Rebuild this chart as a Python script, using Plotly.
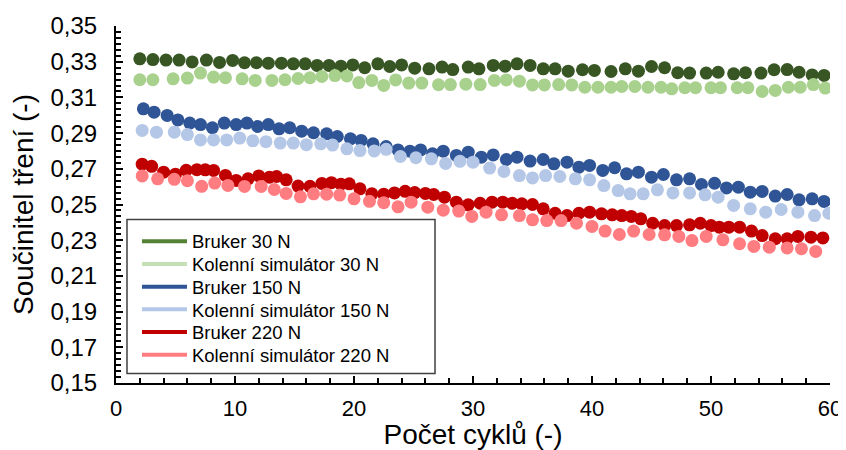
import plotly.graph_objects as go

# Bruker 30 N
bruker30_x = [2.0, 3.1, 4.2, 5.3, 6.4, 7.6, 8.7, 9.8, 10.8, 11.8, 12.8, 13.9, 14.9, 15.9, 16.9, 17.9, 18.9, 19.9,
              20.9, 22.0, 23.0, 24.0, 25.1, 26.3, 27.4, 28.3, 29.6, 30.5, 31.7, 32.7, 33.7, 34.8, 35.9, 36.9, 38.0,
              39.2, 40.2, 41.6, 42.8, 43.9, 45.0, 46.1, 47.2, 48.2, 49.6, 50.6, 51.9, 52.9, 54.2, 55.3, 56.4, 57.4,
              58.5, 59.5]
bruker30_y = [0.3316, 0.3312, 0.3309, 0.3309, 0.3299, 0.3309, 0.3296, 0.3307, 0.3294, 0.3294, 0.3292, 0.3292,
              0.3288, 0.3288, 0.3279, 0.3279, 0.3275, 0.3282, 0.3266, 0.3288, 0.3273, 0.3282, 0.3264, 0.3260,
              0.3270, 0.3256, 0.3270, 0.3260, 0.3279, 0.3275, 0.3288, 0.3279, 0.3260, 0.3260, 0.3247, 0.3255,
              0.3251, 0.3245, 0.3260, 0.3247, 0.3273, 0.3266, 0.3238, 0.3236, 0.3236, 0.3241, 0.3232, 0.3238,
              0.3236, 0.3255, 0.3256, 0.3241, 0.3226, 0.3223]

# Kolenní simulátor 30 N
sim30_x = [2.0, 3.1, 4.8, 6.0, 7.1, 8.2, 9.2, 10.6, 11.7, 13.1, 14.2, 15.3, 16.3, 17.3, 18.4, 19.4, 20.4, 21.5,
           22.5, 23.5, 24.6, 25.7, 27.1, 28.1, 29.4, 30.6, 31.8, 32.8, 33.9, 35.0, 36.0, 37.2, 38.3, 39.4, 40.5,
           41.6, 42.5, 43.6, 44.7, 45.8, 46.7, 47.8, 48.7, 50.0, 50.8, 52.2, 53.1, 54.3, 55.4, 56.5, 57.5, 58.6,
           59.6]
sim30_y = [0.3199, 0.3199, 0.3204, 0.3208, 0.3236, 0.3214, 0.3210, 0.3204, 0.3195, 0.3195, 0.3199, 0.3206,
           0.3210, 0.3217, 0.3222, 0.3220, 0.3183, 0.3195, 0.3167, 0.3198, 0.3180, 0.3180, 0.3171, 0.3172,
           0.3174, 0.3172, 0.3195, 0.3198, 0.3191, 0.3170, 0.3170, 0.3172, 0.3170, 0.3157, 0.3157, 0.3157,
           0.3161, 0.3161, 0.3157, 0.3157, 0.3148, 0.3154, 0.3154, 0.3154, 0.3154, 0.3154, 0.3154, 0.3133,
           0.3139, 0.3157, 0.3157, 0.3172, 0.3152]

# Bruker 150 N
bruker150_x = [2.3, 3.2, 4.3, 5.2, 6.2, 7.1, 8.1, 9.1, 10.1, 11.0, 11.9, 12.8, 13.7, 14.6, 15.6, 16.6, 17.7, 18.6,
               19.7, 20.6, 21.6, 22.7, 23.7, 24.7, 25.6, 26.6, 27.5, 28.6, 29.6, 30.7, 31.7, 32.8, 33.7, 34.8,
               35.9, 36.8, 37.9, 38.9, 39.8, 40.9, 41.9, 42.9, 43.9, 45.0, 46.0, 47.1, 48.2, 49.2, 50.3, 51.3,
               52.3, 53.3, 54.3, 55.4, 56.4, 57.4, 58.5, 59.5]
bruker150_y = [0.3036, 0.3017, 0.2999, 0.2974, 0.2956, 0.2948, 0.2930, 0.2956, 0.2948, 0.2956, 0.2937, 0.2948,
               0.2924, 0.2930, 0.2911, 0.2902, 0.2896, 0.2881, 0.2868, 0.2859, 0.2840, 0.2825, 0.2806, 0.2799,
               0.2806, 0.2784, 0.2799, 0.2775, 0.2793, 0.2765, 0.2778, 0.2752, 0.2765, 0.2743, 0.2752, 0.2728,
               0.2737, 0.2709, 0.2719, 0.2691, 0.2706, 0.2672, 0.2681, 0.2653, 0.2668, 0.2638, 0.2644, 0.2612,
               0.2619, 0.2593, 0.2597, 0.2569, 0.2573, 0.2547, 0.2556, 0.2526, 0.2532, 0.2517]

# Kolenní simulátor 150 N
sim150_x = [2.2, 3.4, 4.9, 6.0, 7.1, 8.2, 9.3, 10.4, 11.5, 12.6, 13.8, 14.9, 16.0, 17.2, 18.2, 19.4, 20.5, 21.7,
            22.7, 23.9, 25.2, 26.5, 27.7, 28.9, 30.0, 31.4, 32.6, 33.9, 35.0, 36.1, 37.3, 38.6, 39.8, 41.0, 42.2,
            43.2, 44.3, 45.5, 46.8, 48.2, 49.5, 50.6, 51.9, 53.3, 54.6, 55.9, 57.3, 58.7, 59.9]
sim150_y = [0.2915, 0.2905, 0.2905, 0.2892, 0.2862, 0.2862, 0.2862, 0.2872, 0.2857, 0.2852, 0.2844, 0.2844,
            0.2835, 0.2840, 0.2833, 0.2812, 0.2802, 0.2800, 0.2809, 0.2769, 0.2762, 0.2756, 0.2730, 0.2742,
            0.2737, 0.2704, 0.2685, 0.2662, 0.2649, 0.2662, 0.2657, 0.2644, 0.2638, 0.2606, 0.2578, 0.2560,
            0.2560, 0.2582, 0.2565, 0.2565, 0.2554, 0.2541, 0.2495, 0.2476, 0.2457, 0.2472, 0.2457, 0.2438,
            0.2451]

# Bruker 220 N
bruker220_x = [2.2, 3.0, 4.0, 5.0, 5.9, 6.8, 7.5, 8.2, 9.2, 10.1, 11.1, 12.0, 12.9, 13.5, 14.3, 15.3, 16.3, 17.3,
               18.1, 18.9, 19.6, 20.5, 21.5, 22.5, 23.4, 24.3, 25.1, 26.0, 26.7, 27.6, 28.6, 29.6, 30.6, 31.6,
               32.5, 33.3, 34.1, 35.0, 35.9, 36.9, 37.9, 38.9, 39.8, 40.8, 41.7, 42.5, 43.3, 44.1, 45.1, 46.1,
               47.1, 48.2, 49.1, 50.0, 50.7, 51.5, 52.4, 53.4, 54.3, 55.4, 56.4, 57.3, 58.4, 59.4]
bruker220_y = [0.2726, 0.2714, 0.2681, 0.2670, 0.2692, 0.2695, 0.2694, 0.2691, 0.2663, 0.2635, 0.2644, 0.2660,
               0.2653, 0.2657, 0.2638, 0.2603, 0.2602, 0.2618, 0.2622, 0.2614, 0.2616, 0.2588, 0.2560, 0.2558,
               0.2565, 0.2574, 0.2567, 0.2562, 0.2556, 0.2541, 0.2513, 0.2498, 0.2507, 0.2513, 0.2513, 0.2507,
               0.2504, 0.2500, 0.2476, 0.2451, 0.2438, 0.2451, 0.2457, 0.2448, 0.2442, 0.2438, 0.2433, 0.2420,
               0.2395, 0.2382, 0.2382, 0.2386, 0.2395, 0.2382, 0.2373, 0.2373, 0.2373, 0.2351, 0.2326, 0.2308,
               0.2308, 0.2321, 0.2317, 0.2313]

# Kolenní simulátor 220 N
sim220_x = [2.2, 3.5, 4.9, 6.0, 7.2, 8.3, 9.4, 10.8, 12.2, 13.3, 14.3, 15.5, 16.6, 17.7, 18.8, 20.0, 21.3, 22.5,
            23.7, 24.8, 26.2, 27.5, 28.8, 29.9, 31.1, 32.4, 33.9, 35.0, 36.2, 37.4, 38.7, 40.0, 41.1, 42.3, 43.5,
            44.8, 46.1, 47.3, 48.4, 49.6, 51.0, 52.4, 53.6, 54.9, 56.4, 57.6, 58.8]
sim220_y = [0.2660, 0.2644, 0.2641, 0.2633, 0.2602, 0.2620, 0.2607, 0.2601, 0.2601, 0.2584, 0.2562, 0.2543,
            0.2560, 0.2558, 0.2553, 0.2532, 0.2518, 0.2510, 0.2487, 0.2513, 0.2485, 0.2468, 0.2463, 0.2433,
            0.2457, 0.2442, 0.2438, 0.2414, 0.2410, 0.2410, 0.2395, 0.2377, 0.2351, 0.2332, 0.2351, 0.2332,
            0.2330, 0.2321, 0.2298, 0.2321, 0.2302, 0.2280, 0.2265, 0.2261, 0.2257, 0.2252, 0.2237]

series = [
    ("Bruker 30 N", bruker30_x, bruker30_y, "#375623", "#548235"),
    ("Kolenní simulátor 30 N", sim30_x, sim30_y, "#a9d18e", "#c5e0b4"),
    ("Bruker 150 N", bruker150_x, bruker150_y, "#2f5597", "#2f5597"),
    ("Kolenní simulátor 150 N", sim150_x, sim150_y, "#b4c7e7", "#b4c7e7"),
    ("Bruker 220 N", bruker220_x, bruker220_y, "#c00000", "#c00000"),
    ("Kolenní simulátor 220 N", sim220_x, sim220_y, "#ff7c80", "#ff7c80"),
]

FONT = "Liberation Sans, Arial, sans-serif"

fig = go.Figure()

for name, xs, ys, color, legend_color in series:
    fig.add_trace(
        go.Scatter(
            x=xs,
            y=ys,
            mode="markers",
            marker=dict(color=color, size=13, line=dict(width=0)),
            showlegend=False,
            name=name,
        )
    )

# legend frame (the entries sit inside it, one small legend per row
# so the rows can be packed as tightly as in the original)
fig.add_shape(
    type="rect",
    xref="paper", yref="paper",
    x0=0.0154, x1=0.4468, y0=0.0266, y1=0.458,
    line=dict(color="#404040", width=1.5),
    fillcolor="white",
    layer="above",
)

legend_rows = [0.3958, 0.3322, 0.2686, 0.2050, 0.1415, 0.0779]
legend_keys = ["legend", "legend2", "legend3", "legend4", "legend5", "legend6"]

for (name, xs, ys, color, legend_color), key in zip(series, legend_keys):
    fig.add_trace(
        go.Scatter(
            x=[None],
            y=[None],
            mode="lines",
            line=dict(color=legend_color, width=4),
            name=name,
            legend=key,
        )
    )

legend_style = dict(
    x=0.0294,
    xanchor="left",
    yanchor="middle",
    bgcolor="rgba(0,0,0,0)",
    borderwidth=0,
    font=dict(size=18.5, family=FONT, color="black"),
    itemwidth=45,
)

# the page body adds an 8px margin, so the figure is 8px smaller than the window
fig.update_layout(
    width=838,
    height=442,
    margin=dict(l=108, r=16, t=18, b=67),
    paper_bgcolor="white",
    plot_bgcolor="white",
    separators=", ",
    font=dict(family=FONT, color="black"),
    xaxis=dict(
        range=[0, 60],
        tick0=0,
        dtick=10,
        ticks="inside",
        ticklen=7,
        tickwidth=1.5,
        tickcolor="black",
        minor=dict(dtick=2, ticks="inside", ticklen=5, tickwidth=1.5, tickcolor="black"),
        showline=True,
        linecolor="black",
        linewidth=2,
        showgrid=False,
        zeroline=False,
        automargin=False,
        tickfont=dict(size=22, family=FONT),
        ticklabelstandoff=5,
        title=dict(text="Počet cyklů (-)", font=dict(size=28, family=FONT), standoff=12),
    ),
    yaxis=dict(
        range=[0.15, 0.35],
        tick0=0.15,
        dtick=0.02,
        tickformat=".2f",
        ticks="inside",
        ticklen=7,
        tickwidth=1.5,
        tickcolor="black",
        minor=dict(dtick=0.02 / 6, ticks="inside", ticklen=5, tickwidth=1.5, tickcolor="black"),
        showline=True,
        linecolor="black",
        linewidth=2,
        showgrid=False,
        zeroline=False,
        automargin=False,
        tickfont=dict(size=24, family=FONT),
        ticklabelstandoff=12,
        title=dict(text="Součinitel tření (-)", font=dict(size=28, family=FONT), standoff=14),
    ),
)

fig.update_layout({key: dict(legend_style, y=row) for key, row in zip(legend_keys, legend_rows)})

fig.write_html("out.html")
